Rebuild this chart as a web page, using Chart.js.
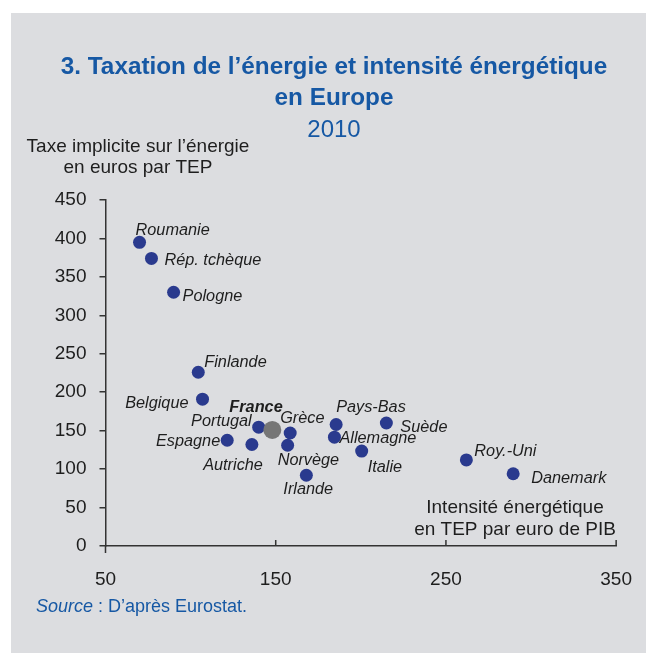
<!DOCTYPE html>
<html>
<head>
<meta charset="utf-8">
<script src="https://cdn.jsdelivr.net/npm/chart.js@4.4.1/dist/chart.umd.min.js"></script>
<style>
  html, body { margin: 0; padding: 0; background: #ffffff; }
  canvas { display: block; }
</style>
</head>
<body>
<canvas id="c" width="646" height="653"></canvas>
<script>
// ---- Data ----
const countries = ["Roumanie","Rép. tchèque","Pologne","Finlande","Belgique","Portugal","France","Grèce","Espagne","Autriche","Norvège","Irlande","Pays-Bas","Allemagne","Suède","Italie","Roy.-Uni","Danemark"];
const intensity = [70, 77, 90, 104.5, 107, 140, 148, 158.5, 121.5, 136, 157, 168, 185.5, 184.5, 215, 200.5, 262, 289.5];
const taxRate   = [395, 374, 330, 226, 191, 154.5, 151, 147, 137.5, 132, 131, 92, 158, 141.5, 160, 123.5, 112, 94];
const xTicks = [50, 150, 250, 350];
const yTicks = [0, 50, 100, 150, 200, 250, 300, 350, 400, 450];
const highlight = "France";

// ---- Styles / label placement (not data) ----
const FONT = "'Liberation Sans', Arial, sans-serif";
const BLUE_DOT = "#2a3a8e";
const GREY_DOT = "#767676";
const TITLE_BLUE = "#1658a4";
const TEXT = "#1e1e1e";
// [dx, dy, align] relative to point centre
const labelPlacement = {
  "Roumanie": [-4, -12, "left"],
  "Rép. tchèque": [13, 2, "left"],
  "Pologne": [9, 4, "left"],
  "Finlande": [6, -10, "left"],
  "Belgique": [-14, 4, "right"],
  "Portugal": [-7, -6, "right"],
  "France": [-43, -22, "left"],
  "Grèce": [-10, -14, "left"],
  "Espagne": [-7, 1, "right"],
  "Autriche": [11, 21, "right"],
  "Norvège": [-10, 15, "left"],
  "Irlande": [-23, 14, "left"],
  "Pays-Bas": [0, -17, "left"],
  "Allemagne": [5, 1, "left"],
  "Suède": [14, 4, "left"],
  "Italie": [6, 16, "left"],
  "Roy.-Uni": [8, -8, "left"],
  "Danemark": [18, 5, "left"]
};

const others = [], hl = [];
countries.forEach((c, i) => {
  const p = { x: intensity[i], y: taxRate[i], name: c };
  (c === highlight ? hl : others).push(p);
});

const bgPlugin = {
  id: 'bg',
  beforeDraw(chart) {
    const ctx = chart.ctx;
    ctx.save();
    ctx.fillStyle = '#ffffff';
    ctx.fillRect(0, 0, chart.width, chart.height);
    ctx.fillStyle = '#dcdde0';
    ctx.fillRect(11, 13, chart.width - 11, chart.height - 13);
    ctx.restore();
  }
};

const decoPlugin = {
  id: 'deco',
  afterDraw(chart) {
    const ctx = chart.ctx;
    const xs = chart.scales.x;
    const ca = chart.chartArea;
    ctx.save();
    // x ticks (inward) and y-axis extension
    ctx.strokeStyle = '#333';
    ctx.lineWidth = 1.5;
    ctx.beginPath();
    xTicks.forEach(v => {
      const px = xs.getPixelForValue(v);
      if (v !== xTicks[0]) { ctx.moveTo(px, ca.bottom); ctx.lineTo(px, ca.bottom - 6); }
    });
    ctx.moveTo(ca.left, ca.bottom); ctx.lineTo(ca.left, ca.bottom + 7);
    ctx.stroke();

    // Title
    ctx.fillStyle = TITLE_BLUE;
    ctx.textAlign = 'center';
    ctx.textBaseline = 'middle';
    ctx.font = "bold 24.3px " + FONT;
    ctx.fillText("3. Taxation de l\u2019énergie et intensité énergétique", 334, 67);
    ctx.fillText("en Europe", 334, 98);
    ctx.font = "24px " + FONT;
    ctx.fillText("2010", 334, 130);

    // Axis titles
    ctx.fillStyle = TEXT;
    ctx.font = "19px " + FONT;
    ctx.fillText("Taxe implicite sur l\u2019énergie", 138, 147);
    ctx.fillText("en euros par TEP", 138, 168);
    ctx.fillText("Intensité énergétique", 515, 508);
    ctx.fillText("en TEP par euro de PIB", 515, 530);

    // Source
    ctx.textAlign = 'left';
    ctx.fillStyle = TITLE_BLUE;
    ctx.font = "italic 18px " + FONT;
    ctx.fillText("Source", 36, 607);
    const w = ctx.measureText("Source").width;
    ctx.font = "18px " + FONT;
    ctx.fillText(" : D\u2019après Eurostat.", 36 + w, 607);
    ctx.restore();
  }
};

const labelPlugin = {
  id: 'labels',
  afterDatasetsDraw(chart) {
    const ctx = chart.ctx;
    ctx.save();
    ctx.fillStyle = TEXT;
    ctx.textBaseline = 'middle';
    chart.data.datasets.forEach((ds, di) => {
      const meta = chart.getDatasetMeta(di);
      meta.data.forEach((el, i) => {
        const name = ds.data[i].name;
        const pl = labelPlacement[name] || [8, 0, 'left'];
        ctx.font = (name === highlight ? "italic bold 16.3px " : "italic 16.3px ") + FONT;
        ctx.textAlign = pl[2];
        ctx.fillText(name, el.x + pl[0], el.y + pl[1]);
      });
    });
    ctx.restore();
  }
};

new Chart(document.getElementById('c'), {
  type: 'scatter',
  data: {
    datasets: [
      { data: hl, backgroundColor: GREY_DOT, borderWidth: 0, pointRadius: 9, pointHoverRadius: 9 },
      { data: others, backgroundColor: BLUE_DOT, borderWidth: 0, pointRadius: 6.5, pointHoverRadius: 6.5 }
    ]
  },
  options: {
    responsive: false,
    animation: false,
    layout: { padding: { left: 0, right: 24, top: 200, bottom: 0 } },
    plugins: { legend: { display: false }, tooltip: { enabled: false }, title: { display: false } },
    scales: {
      x: {
        type: 'linear', min: 50, max: 350,
        afterBuildTicks(s) { s.ticks = xTicks.map(v => ({ value: v })); },
        afterFit(s) { s.height = 107; },
        grid: { display: false },
        border: { display: true, color: '#333', width: 1.5 },
        ticks: { color: TEXT, font: { family: FONT, size: 19 }, padding: 14, maxRotation: 0 }
      },
      y: {
        type: 'linear', min: 0, max: 450,
        afterBuildTicks(s) { s.ticks = yTicks.map(v => ({ value: v })); },
        afterFit(s) { s.width = 105.5; },
        grid: { display: true, drawOnChartArea: false, drawTicks: true, tickLength: 6, color: '#333', lineWidth: 1.5 },
        border: { display: true, color: '#333', width: 1.5 },
        ticks: { color: TEXT, font: { family: FONT, size: 19 }, padding: 13 }
      }
    }
  },
  plugins: [bgPlugin, labelPlugin, decoPlugin]
});
</script>
</body>
</html>
